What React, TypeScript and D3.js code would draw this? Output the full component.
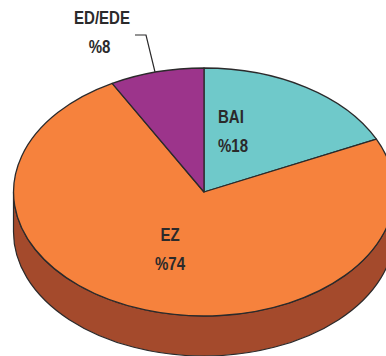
import React from "react";
import * as d3 from "d3";

const categories = ["BAI", "EZ", "ED/EDE"];
const values = [18, 74, 8];
const percentLabels = ["%18", "%74", "%8"];
const colors = ["#6FC9CA", "#F6823D", "#9C348B"];
const sideColor = "#A44A2C";
const ink = "#2B2A2B";

const W = 386, H = 356;
const cx = 204, cy = 192, rx = 190.5, ry = 124, depth = 40;

const pie = d3.pie<number>().sort(null).value((d) => d);
const arcs = pie(values);
const unitArc = d3.arc<d3.PieArcDatum<number>>().innerRadius(0).outerRadius(1);

const font: React.CSSProperties = {
  fontFamily: '"Liberation Sans", Arial, sans-serif',
  fontWeight: 700,
  fontSize: 17.5,
  fill: ink,
};

function Label({ x, y, anchor, children }: { x: number; y: number; anchor: string; children: React.ReactNode }) {
  return (
    <text transform={`translate(${x},${y}) scale(0.86,1)`} textAnchor={anchor} style={font}>
      {children}
    </text>
  );
}

export default function App() {
  const sidePath = `M${cx - rx},${cy} A${rx},${ry} 0 0 0 ${cx + rx},${cy} L${cx + rx},${cy + depth} A${rx},${ry} 0 0 1 ${cx - rx},${cy + depth} Z`;
  return (
    <svg
      width={W}
      height={H}
      viewBox={`0 0 ${W} ${H}`}
      style={{ position: "absolute", left: 0, top: 0, background: "#fff" }}
    >
      <path d={sidePath} fill={sideColor} stroke={ink} strokeWidth={1.2} />
      <g transform={`translate(${cx},${cy}) scale(${rx},${ry})`}>
        {arcs.map((a, i) => (
          <path
            key={categories[i]}
            d={unitArc(a) ?? ""}
            fill={colors[i]}
            stroke={ink}
            strokeWidth={1.3}
            vectorEffect="non-scaling-stroke"
            strokeLinejoin="round"
          />
        ))}
      </g>
      <path d="M135,35 H146 L155,72" fill="none" stroke={ink} strokeWidth={1.2} />
      <Label x={218} y={123} anchor="start">{categories[0]}</Label>
      <Label x={218} y={152} anchor="start">{percentLabels[0]}</Label>
      <Label x={170} y={241} anchor="middle">{categories[1]}</Label>
      <Label x={170} y={270} anchor="middle">{percentLabels[1]}</Label>
      <Label x={102} y={24} anchor="middle">{categories[2]}</Label>
      <Label x={99.5} y={53} anchor="middle">{percentLabels[2]}</Label>
    </svg>
  );
}
